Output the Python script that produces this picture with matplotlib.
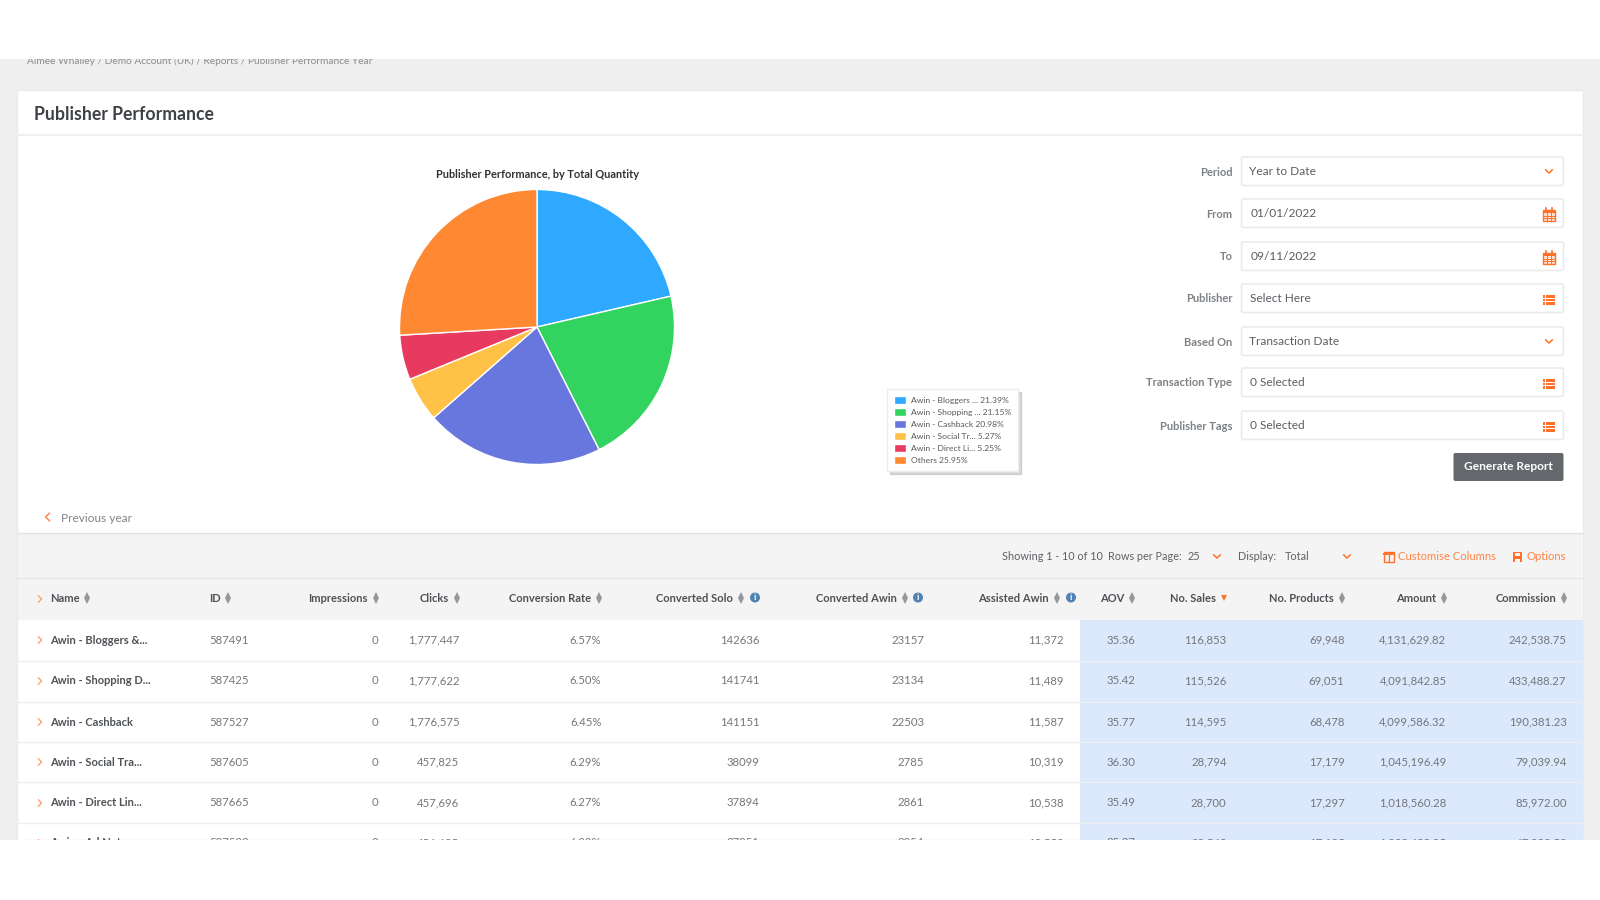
import matplotlib
matplotlib.use('Agg')
import matplotlib.pyplot as plt
from matplotlib.patches import Rectangle, FancyBboxPatch, Circle

plt.rcParams['font.family'] = ['Lato', 'DejaVu Sans']

pie_names = ['Awin - Bloggers ...', 'Awin - Shopping ...', 'Awin - Cashback', 'Awin - Social Tr...', 'Awin - Direct Li...', 'Others']
pie_shares = [21.39, 21.15, 20.98, 5.27, 5.25, 25.95]
pie_colors = ['#2EA9FF', '#33D35F', '#6877DE', '#FFC247', '#E83A5E', '#FF8833']

form_labels = ['Period', 'From', 'To', 'Publisher', 'Based On', 'Transaction Type', 'Publisher Tags']
form_values = ['Year to Date', '01/01/2022', '09/11/2022', 'Select Here', 'Transaction Date', '0 Selected', '0 Selected']
form_icons = ['chevron', 'calendar', 'calendar', 'list', 'chevron', 'list', 'list']

headers = ['Impressions', 'Clicks', 'Conversion Rate', 'Converted Solo', 'Converted Awin', 'Assisted Awin', 'AOV', 'No. Sales', 'No. Products', 'Amount', 'Commission']
names = ['Awin - Bloggers &...', 'Awin - Shopping D...', 'Awin - Cashback', 'Awin - Social Tra...', 'Awin - Direct Lin...', 'Awin - Ad Netwo...']
ids = ['587491', '587425', '587527', '587605', '587665', '587523']
impressions = ['0', '0', '0', '0', '0', '0']
clicks = ['1,777,447', '1,777,622', '1,776,575', '457,825', '457,696', '456,685']
rates = ['6.57%', '6.50%', '6.45%', '6.29%', '6.27%', '6.22%']
solo = ['142636', '141741', '141151', '38099', '37894', '37851']
awin = ['23157', '23134', '22503', '2785', '2861', '2854']
assisted = ['11,372', '11,489', '11,587', '10,319', '10,538', '10,550']
aov = ['35.36', '35.42', '35.77', '36.30', '35.49', '35.37']
sales = ['116,853', '115,526', '114,595', '28,794', '28,700', '28,543']
products = ['69,948', '69,051', '68,478', '17,179', '17,297', '17,125']
amount = ['4,131,629.82', '4,091,842.85', '4,099,586.32', '1,045,196.49', '1,018,560.28', '1,008,488.25']
commission = ['242,538.75', '433,488.27', '190,381.23', '79,039.94', '85,972.00', '67,000.50']

ORANGE = '#FF7028'
GREY_TEXT = '#74787C'
DARK_TEXT = '#4E5256'

plt.figure(figsize=(16, 9), dpi=100, facecolor='white')

# whole page in pixels, y going down
plt.axes([0, 0, 1, 1])
plt.xlim(0, 1600)
plt.ylim(900, 0)
plt.axis('off')
page = plt.gca()


def box(x0, y0, x1, y1, color, zorder=1, edge='none'):
    page.add_patch(Rectangle((x0, y0), x1 - x0, y1 - y0, facecolor=color, edgecolor=edge, linewidth=1, zorder=zorder))


def chevron(x, y, size=3.2, color=ORANGE, direction='down'):
    if direction == 'down':
        plt.plot([x - size, x, x + size], [y - size / 2, y + size / 2, y - size / 2], color=color, lw=1.1, zorder=5)
    elif direction == 'right':
        plt.plot([x - size / 2, x + size / 2, x - size / 2], [y - size, y, y + size], color=color, lw=0.9, zorder=5)
    else:
        plt.plot([x + size / 2, x - size / 2, x + size / 2], [y - size, y, y + size], color=color, lw=1.1, zorder=5)


def sort_icon(x, y, sorted_down=False):
    if sorted_down:
        plt.plot([x], [y], marker='v', ms=4.6, color=ORANGE, mew=0, zorder=5)
    else:
        plt.plot([x], [y - 2.8], marker='^', ms=5, color='#94989C', mew=0, zorder=5)
        plt.plot([x], [y + 2.8], marker='v', ms=5, color='#94989C', mew=0, zorder=5)


def info_icon(x, y):
    page.add_patch(Circle((x, y), 5, facecolor='#4F81B3', edgecolor='none', zorder=5))
    plt.text(x, y + 0.3, 'i', color='white', fontsize=6.5, fontweight='bold', ha='center', va='center', zorder=6)


def calendar_icon(x, y):
    box(x - 6, y - 4, x + 6, y + 7, '#FFE3D2', 5, ORANGE)
    box(x - 6, y - 4, x + 6, y - 1, ORANGE, 6)
    plt.plot([x - 3, x - 3], [y - 6.5, y - 3.5], color=ORANGE, lw=1.2, zorder=6)
    plt.plot([x + 3, x + 3], [y - 6.5, y - 3.5], color=ORANGE, lw=1.2, zorder=6)
    for offset in [-2, 2]:
        plt.plot([x + offset, x + offset], [y - 1, y + 7], color=ORANGE, lw=0.7, zorder=6)
    for offset in [1.7, 4.4]:
        plt.plot([x - 6, x + 6], [y + offset, y + offset], color=ORANGE, lw=0.7, zorder=6)


def list_icon(x, y):
    for offset in [-3.4, 0, 3.4]:
        box(x - 6, y + offset - 1.2, x - 4.2, y + offset + 1.2, ORANGE, 5)
        box(x - 3.4, y + offset - 1.2, x + 6, y + offset + 1.2, ORANGE, 5)


# page background
box(0, 59, 1600, 840, '#EFEFEF', 0)
box(17, 90, 1583, 840, 'white', 1, '#EAEAEA')
plt.plot([17, 1583], [135, 135], color='#F0F0F0', lw=1.6, zorder=2)
plt.text(27, 61, 'Aimee Whalley / Demo Account (UK) / Reports / Publisher Performance Year', color='#8C8C8C', fontsize=7.3, va='center', zorder=1)
box(0, 0, 1600, 59, 'white', 3)
plt.text(34.5, 115, 'Publisher Performance', color='#3E4246', fontsize=12.7, fontweight='bold', va='center', zorder=3)
plt.text(537, 174, 'Publisher Performance, by Total Quantity', color='#333333', fontsize=7.9, fontweight='bold', ha='center', va='center', zorder=3)

# form on the right
form_tops = [157, 199, 242, 284, 327, 368, 411]
for label, value, icon, top in zip(form_labels, form_values, form_icons, form_tops):
    mid = top + 14
    page.add_patch(FancyBboxPatch((1241.5, top), 322, 28.5, boxstyle='round,pad=0,rounding_size=2', facecolor='white', edgecolor='#EBEBEB', linewidth=1.2, zorder=2))
    plt.text(1232.5, mid + 1, label, color='#7E8286', fontsize=8.0, fontweight='bold', ha='right', va='center', zorder=3)
    text_x = 1249 if icon == 'chevron' else 1250.5
    plt.text(text_x, mid + 0.5, value, color='#5A5E62', fontsize=8.6, va='center', zorder=3)
    if icon == 'chevron':
        chevron(1549, mid + 0.5)
    elif icon == 'calendar':
        calendar_icon(1549, mid + 1)
    else:
        list_icon(1549, mid + 2)
page.add_patch(FancyBboxPatch((1453.5, 453), 110, 28, boxstyle='round,pad=0,rounding_size=2', facecolor='#64686C', edgecolor='none', zorder=2))
plt.text(1508.5, 467, 'Generate Report', color='white', fontsize=8.6, fontweight='bold', ha='center', va='center', zorder=3)

# previous year link
chevron(47.5, 517, size=3.8, color='#FF8A50', direction='left')
plt.text(61, 518, 'Previous year', color='#808488', fontsize=8.6, va='center', zorder=3)

# toolbar and header band
box(18, 533, 1582, 620, '#F4F4F4', 1)
plt.plot([18, 1582], [533, 533], color='#E2E2E2', lw=1, zorder=2)
plt.plot([18, 1582], [578, 578], color='#E6E6E6', lw=1, zorder=2)
plt.text(1002.5, 556, 'Showing 1 - 10 of 10', color='#5E6266', fontsize=7.8, va='center', zorder=3)
plt.text(1108, 556, 'Rows per Page:', color='#5E6266', fontsize=7.8, va='center', zorder=3)
plt.text(1188, 556, '25', color='#5E6266', fontsize=7.8, va='center', zorder=3)
chevron(1217, 556.5)
plt.text(1238, 556, 'Display:', color='#5E6266', fontsize=7.8, va='center', zorder=3)
plt.text(1285, 556, 'Total', color='#5E6266', fontsize=7.8, va='center', zorder=3)
chevron(1347, 556.5)
box(1384, 552, 1393.5, 562, 'none', 4, ORANGE)
plt.plot([1384, 1393.5], [553.5, 553.5], color=ORANGE, lw=1.4, zorder=4)
plt.plot([1388.7, 1388.7], [552, 562], color=ORANGE, lw=0.9, zorder=4)
plt.text(1397.5, 556, 'Customise Columns', color='#FF8248', fontsize=8.1, va='center', zorder=3)
box(1513, 552, 1522, 562, ORANGE, 4)
box(1515, 553, 1520, 556, '#F4F4F4', 5)
box(1515, 558.5, 1520, 562, '#F4F4F4', 5)
plt.text(1526.5, 556, 'Options', color='#FF8248', fontsize=8.1, va='center', zorder=3)

# table header
chevron(40, 599, color='#FF9A5C', direction='right')
plt.text(50.5, 598, 'Name', color=DARK_TEXT, fontsize=8.0, fontweight='bold', va='center', zorder=3)
sort_icon(87, 598)
plt.text(209, 598, 'ID', color=DARK_TEXT, fontsize=8.0, fontweight='bold', va='center', zorder=3)
sort_icon(227.5, 598)
header_right = [368, 449, 591, 733, 897, 1049, 1124.5, 1216, 1334, 1436, 1556]
for header, right in zip(headers, header_right):
    plt.text(right, 598, header, color=DARK_TEXT, fontsize=8.0, fontweight='bold', ha='right', va='center', zorder=3)
    sort_icon(right + 7.5, 598, sorted_down=header == 'No. Sales')
info_icon(755, 597.5)
info_icon(918, 597.5)
info_icon(1071, 597.5)

# table body
box(1080, 620, 1583, 840, '#DCE8FB', 2)
row_mids = [640, 681, 722, 762, 803, 843]
row_lines = [661, 702, 742, 782, 823]
columns = [impressions, clicks, rates, solo, awin, assisted, aov, sales, products, amount, commission]
column_right = [378.5, 459.5, 601.5, 759.5, 924, 1063.5, 1135.5, 1226.5, 1344.5, 1446.5, 1566.5]
for line in row_lines:
    plt.plot([18, 1582], [line, line], color='#EEEFF1', lw=1, zorder=2.5)
for row, mid in enumerate(row_mids):
    chevron(40, mid, color='#FF9A5C', direction='right')
    plt.text(50.5, mid, names[row], color=DARK_TEXT, fontsize=8.0, fontweight='bold', va='center', zorder=3)
    plt.text(209, mid, ids[row], color=GREY_TEXT, fontsize=8.2, va='center', zorder=3)
    for values, right in zip(columns, column_right):
        plt.text(right, mid, values[row], color=GREY_TEXT, fontsize=8.2, ha='right', va='center', zorder=3)
box(0, 840, 1600, 900, 'white', 10) # cut off like the screenshot

# pie chart on its own axes
plt.axes([(537 - 137.5) / 1600, 1 - (327 + 137.5) / 900, 275 / 1600, 275 / 900])
wedges, _ = plt.pie(pie_shares, colors=pie_colors, startangle=90, counterclock=False, radius=1, wedgeprops={'edgecolor': 'white', 'linewidth': 1})
plt.xlim(-1, 1)
plt.ylim(-1, 1)

legend_labels = [f'{name} {share:.2f}%' for name, share in zip(pie_names, pie_shares)]
legend = plt.legend(wedges, legend_labels, loc='upper left', bbox_to_anchor=(887 / 1600, 1 - 389 / 900), bbox_transform=plt.gcf().transFigure,
                    fontsize=6.1, frameon=True, fancybox=False, shadow={'alpha': 0.2}, framealpha=1, edgecolor='#EDEDED', labelcolor='#55595D',
                    handlelength=1.5, handleheight=1.1, handletextpad=0.55, labelspacing=0.46, borderpad=0.8, borderaxespad=0)

plt.savefig('out.png', dpi=100)
